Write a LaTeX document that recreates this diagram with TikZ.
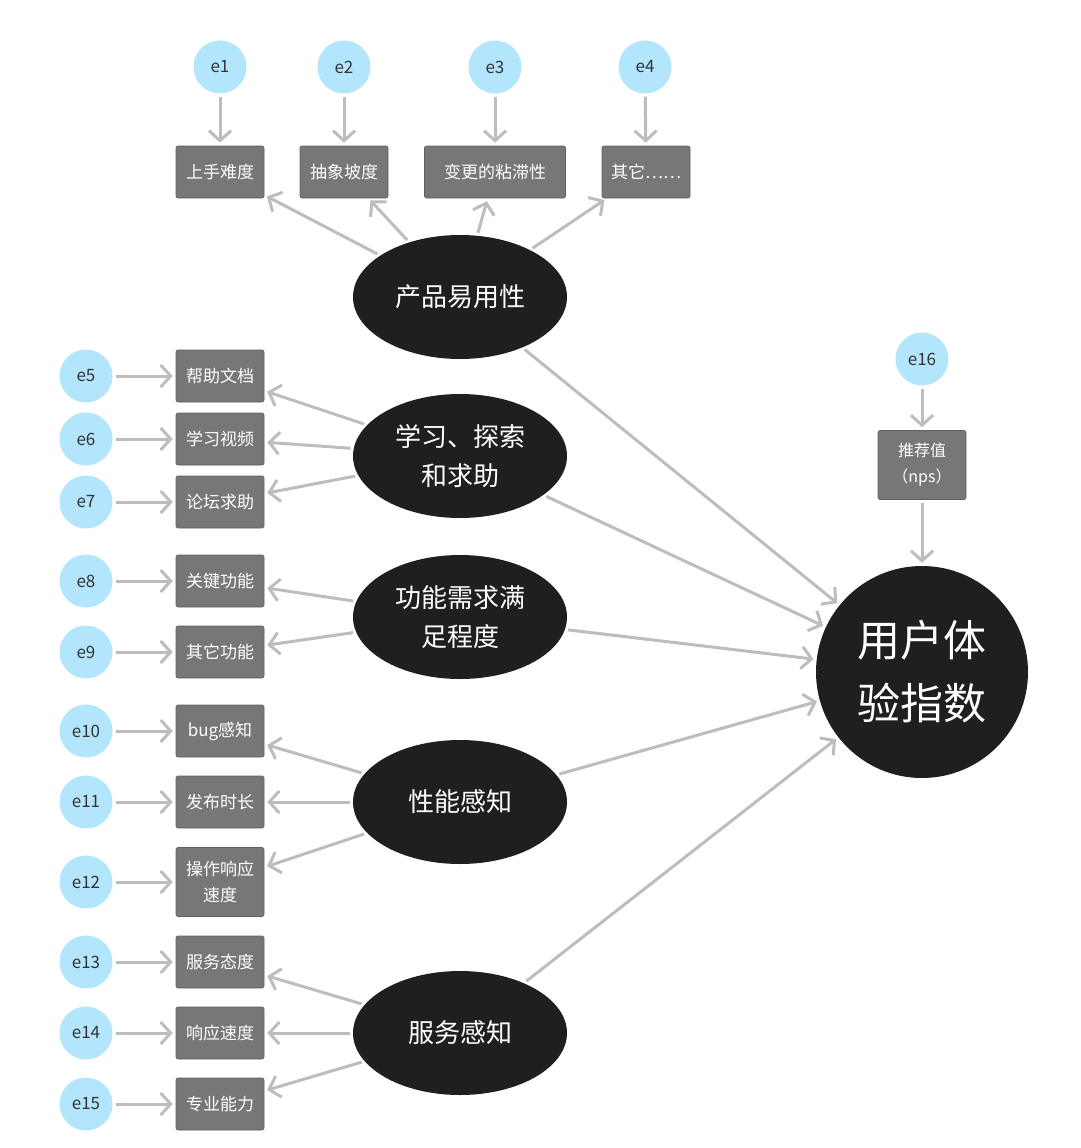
\documentclass[tikz,border=0pt]{standalone}
\usepackage{fontspec}
\setmainfont{Noto Sans CJK SC}
\usetikzlibrary{shapes.geometric,arrows.meta}
\definecolor{errblue}{HTML}{B3E5FC}
\definecolor{itemgray}{HTML}{777777}
\definecolor{factorblack}{HTML}{1F1F1F}
\definecolor{arrowgray}{HTML}{BDBDBD}
\begin{document}
\begin{tikzpicture}[
			x=1pt, y=-1pt,
			err/.style={circle, fill=errblue, text=black!80, minimum size=53pt, inner sep=0pt, font=\fontsize{17}{20}\selectfont},
			item/.style={rectangle, rounded corners=2pt, fill=itemgray, draw=itemgray!80!black, line width=0.6pt, text=white, minimum width=88pt, minimum height=52pt, inner sep=2pt, align=center, font=\fontsize{17}{26}\selectfont},
			factor/.style={ellipse, fill=factorblack, text=white, minimum width=214pt, minimum height=124pt, inner sep=0pt, align=center, font=\fontsize{26}{39}\selectfont},
			index/.style={circle, fill=factorblack, text=white, minimum size=212pt, inner sep=0pt, align=center, font=\fontsize{43}{63}\selectfont},
			arrow/.style={-{Straight Barb[length=10pt,width=22pt,line width=3pt]}, draw=arrowgray, line width=3pt, shorten <=3pt, shorten >=3pt}
		]
		\useasboundingbox (0,0) rectangle (1080,1148);

		% Product usability
		\node[factor] (use) at (460,297) {产品易用性};
		\node[err] (e1) at (220,67) {e1};
		\node[err] (e2) at (344,67) {e2};
		\node[err] (e3) at (495,67) {e3};
		\node[err] (e4) at (645,67) {e4};
		\node[item] (i1) at (220,172) {上手难度};
		\node[item] (i2) at (344,172) {抽象坡度};
		\node[item, minimum width=141pt] (i3) at (495,172) {变更的粘滞性};
		\node[item] (i4) at (646,172) {其它……};
		\draw[arrow] (e1) -- (i1);
		\draw[arrow] (e2) -- (i2);
		\draw[arrow] (e3) -- (i3);
		\draw[arrow] (e4) -- (i4);
		\draw[arrow] (use) -- (i1);
		\draw[arrow] (use) -- (i2);
		\draw[arrow] (use) -- (i3);
		\draw[arrow] (use) -- (i4);

		% Learning
		\node[factor] (learn) at (460,456) {学习、探索\\和求助};
		\node[err] (e5) at (86,376) {e5};
		\node[err] (e6) at (86,439) {e6};
		\node[err] (e7) at (86,502) {e7};
		\node[item] (i5) at (220,376) {帮助文档};
		\node[item] (i6) at (220,439) {学习视频};
		\node[item] (i7) at (220,502) {论坛求助};
		\draw[arrow] (e5) -- (i5);
		\draw[arrow] (e6) -- (i6);
		\draw[arrow] (e7) -- (i7);
		\draw[arrow] (learn) -- (i5);
		\draw[arrow] (learn) -- (i6);
		\draw[arrow] (learn) -- (i7);

		% Features
		\node[factor] (feat) at (460,617) {功能需求满\\足程度};
		\node[err] (e8) at (86,581) {e8};
		\node[err] (e9) at (86,652) {e9};
		\node[item] (i8) at (220,581) {关键功能};
		\node[item] (i9) at (220,652) {其它功能};
		\draw[arrow] (e8) -- (i8);
		\draw[arrow] (e9) -- (i9);
		\draw[arrow] (feat) -- (i8);
		\draw[arrow] (feat) -- (i9);

		% Performance
		\node[factor] (perf) at (460,802) {性能感知};
		\node[err] (e10) at (86,731) {e10};
		\node[err] (e11) at (86,802) {e11};
		\node[err] (e12) at (86,882) {e12};
		\node[item] (i10) at (220,731) {bug感知};
		\node[item] (i11) at (220,802) {发布时长};
		\node[item, minimum height=69pt] (i12) at (220,882) {操作响应\\速度};
		\draw[arrow] (e10) -- (i10);
		\draw[arrow] (e11) -- (i11);
		\draw[arrow] (e12) -- (i12);
		\draw[arrow] (perf) -- (i10);
		\draw[arrow] (perf) -- (i11);
		\draw[arrow] (perf) -- (i12);

		% Service
		\node[factor] (serv) at (460,1033) {服务感知};
		\node[err] (e13) at (86,962) {e13};
		\node[err] (e14) at (86,1033) {e14};
		\node[err] (e15) at (86,1104) {e15};
		\node[item] (i13) at (220,962) {服务态度};
		\node[item] (i14) at (220,1033) {响应速度};
		\node[item] (i15) at (220,1104) {专业能力};
		\draw[arrow] (e13) -- (i13);
		\draw[arrow] (e14) -- (i14);
		\draw[arrow] (e15) -- (i15);
		\draw[arrow] (serv) -- (i13);
		\draw[arrow] (serv) -- (i14);
		\draw[arrow] (serv) -- (i15);

		% User experience index
		\node[index] (ux) at (922,672) {用户体\\验指数};
		\node[err] (e16) at (922,359) {e16};
		\node[item, minimum height=69pt, font=\fontsize{16}{26}\selectfont] (nps) at (922,465) {推荐值\\（nps）};
		\draw[arrow] (e16) -- (nps);
		\draw[arrow] (nps) -- (ux);
		\draw[arrow] (use) -- (ux);
		\draw[arrow] (learn) -- (ux);
		\draw[arrow] (feat) -- (ux);
		\draw[arrow] (perf) -- (ux);
		\draw[arrow] (serv) -- (ux);

	\end{tikzpicture}
\end{document}
